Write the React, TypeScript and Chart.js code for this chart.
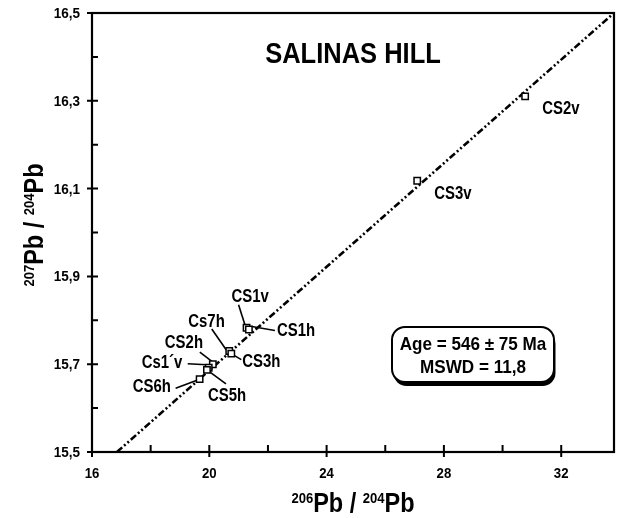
import React, { useEffect, useRef } from 'react';
import { Chart, registerables } from 'chart.js';
Chart.register(...registerables);

// ---- data ----
const sampleNames = ['CS2v', 'CS3v', 'CS1v', 'CS1h', 'Cs7h', 'CS3h', 'CS2h', 'Cs1´v', 'CS5h', 'CS6h'];
const pb206 = [30.77, 27.09, 21.27, 21.35, 20.68, 20.75, 20.12, 19.98, 19.92, 19.67];
const pb207 = [16.31, 16.118, 15.783, 15.779, 15.73, 15.724, 15.7, 15.692, 15.687, 15.666];
const isochronX = [16.85, 33.8];
const isochronY = [15.5, 16.5];

const xMajorTicks = [16, 20, 24, 28, 32];
const xMinorTicks = [18, 22, 26, 30];
const xTickLabels = ['16', '20', '24', '28', '32'];
const yMajorTicks = [15.5, 15.7, 15.9, 16.1, 16.3, 16.5];
const yMinorTicks = [15.6, 15.8, 16.0, 16.2, 16.4];
const yTickLabels = ['15,5', '15,7', '15,9', '16,1', '16,3', '16,5'];

const titleText = 'SALINAS HILL';
const ageLines = ['Age = 546 ± 75 Ma', 'MSWD = 11,8'];

// ---- label layout (pixel offsets from each point) ----
type Lay = { dx: number; dy: number; l?: number[] };
const labelLayout: Lay[] = [
  { dx: 17, dy: 13 },
  { dx: 17, dy: 13 },
  { dx: -15, dy: -31, l: [-8, -23, -1, -1] },
  { dx: 28, dy: 2, l: [3, -3, 26, 1] },
  { dx: -41, dy: -29, l: [-17.5, -22, -1.5, 1] },
  { dx: 11, dy: 8, l: [1.5, 1, 10, 6] },
  { dx: -48, dy: -21, l: [-13, -12, 0, -2] },
  { dx: -67, dy: -5, l: [-21, -4, -2, -3] },
  { dx: 1, dy: 26, l: [0, 0, 19, 14] },
  { dx: -67, dy: 8, l: [-24, 9, 0, 0] },
];

const FONT = "'Liberation Sans', Arial, sans-serif";

function squeezed(
  ctx: CanvasRenderingContext2D,
  text: string,
  x: number,
  y: number,
  sx: number,
  align: CanvasTextAlign,
  baseline: CanvasTextBaseline
) {
  ctx.save();
  ctx.translate(x, y);
  ctx.scale(sx, 1);
  ctx.textAlign = align;
  ctx.textBaseline = baseline;
  ctx.fillText(text, 0, 0);
  ctx.restore();
}

function drawIsoLabel(ctx: CanvasRenderingContext2D, parts: { t: string; sup?: boolean }[], big: number, small: number, sx: number) {
  const bigF = `bold ${big}px ${FONT}`;
  const smallF = `bold ${small}px ${FONT}`;
  let total = 0;
  const widths = parts.map((p) => {
    ctx.font = p.sup ? smallF : bigF;
    const w = ctx.measureText(p.t).width;
    total += w;
    return w;
  });
  ctx.save();
  ctx.scale(sx, 1);
  let x = -total / 2;
  ctx.textAlign = 'left';
  ctx.textBaseline = 'alphabetic';
  parts.forEach((p, i) => {
    ctx.font = p.sup ? smallF : bigF;
    ctx.fillText(p.t, x, p.sup ? -big * 0.73 + small * 0.72 : 0);
    x += widths[i];
  });
  ctx.restore();
}

const annotPlugin = {
  id: 'annot',
  beforeDatasetsDraw(chart: any) {
    const ctx: CanvasRenderingContext2D = chart.ctx;
    const xs = chart.scales.x;
    const ys = chart.scales.y;
    ctx.save();
    ctx.strokeStyle = '#000';
    ctx.lineWidth = 1.6;
    pb206.forEach((v, i) => {
      const lay = labelLayout[i];
      if (!lay.l) return;
      const px = xs.getPixelForValue(v);
      const py = ys.getPixelForValue(pb207[i]);
      ctx.beginPath();
      ctx.moveTo(px + lay.l[0], py + lay.l[1]);
      ctx.lineTo(px + lay.l[2], py + lay.l[3]);
      ctx.stroke();
    });
    ctx.restore();
  },
  afterDatasetsDraw(chart: any) {
    const ctx: CanvasRenderingContext2D = chart.ctx;
    const a = chart.chartArea;
    const xs = chart.scales.x;
    const ys = chart.scales.y;
    ctx.save();
    ctx.strokeStyle = '#000';
    ctx.fillStyle = '#000';
    // frame
    ctx.lineWidth = 2.2;
    ctx.strokeRect(a.left, a.top, a.right - a.left, a.bottom - a.top);
    // ticks
    ctx.lineWidth = 2;
    ctx.beginPath();
    xMajorTicks.forEach((v) => {
      const p = xs.getPixelForValue(v);
      ctx.moveTo(p, a.bottom + 5);
      ctx.lineTo(p, a.bottom - 7);
    });
    xMinorTicks.forEach((v) => {
      const p = xs.getPixelForValue(v);
      ctx.moveTo(p, a.bottom);
      ctx.lineTo(p, a.bottom - 7);
    });
    yMajorTicks.forEach((v) => {
      const p = ys.getPixelForValue(v);
      ctx.moveTo(a.left - 5, p);
      ctx.lineTo(a.left + 6, p);
    });
    yMinorTicks.forEach((v) => {
      const p = ys.getPixelForValue(v);
      ctx.moveTo(a.left, p);
      ctx.lineTo(a.left + 6, p);
    });
    ctx.stroke();

    // tick labels
    ctx.font = `bold 15px ${FONT}`;
    xMajorTicks.forEach((v, i) => {
      squeezed(ctx, xTickLabels[i], xs.getPixelForValue(v), a.bottom + 25.5, 0.88, 'center', 'alphabetic');
    });
    yMajorTicks.forEach((v, i) => {
      squeezed(ctx, yTickLabels[i], a.left - 12, ys.getPixelForValue(v) + 5, 0.9, 'right', 'alphabetic');
    });

    // point labels
    ctx.font = `bold 18px ${FONT}`;
    pb206.forEach((v, i) => {
      const px = xs.getPixelForValue(v);
      const py = ys.getPixelForValue(pb207[i]);
      const lay = labelLayout[i];
      squeezed(ctx, sampleNames[i], px + lay.dx, py + lay.dy, 0.83, 'left', 'middle');
    });

    // title
    ctx.font = `bold 30px ${FONT}`;
    squeezed(ctx, titleText, (a.left + a.right) / 2, 63, 0.85, 'center', 'alphabetic');

    // age box
    const bx = a.right - 222, by = 327, bw = 162, bh = 55, r = 13;
    ctx.beginPath();
    ctx.roundRect(bx + 1.5, by + 4, bw, bh, r);
    ctx.fill();
    ctx.beginPath();
    ctx.roundRect(bx, by, bw, bh, r);
    ctx.fillStyle = '#fff';
    ctx.fill();
    ctx.lineWidth = 2;
    ctx.stroke();
    ctx.fillStyle = '#000';
    ctx.font = `bold 19px ${FONT}`;
    squeezed(ctx, ageLines[0], bx + bw / 2, by + 23, 0.9, 'center', 'alphabetic');
    squeezed(ctx, ageLines[1], bx + bw / 2, by + 46, 0.9, 'center', 'alphabetic');

    // axis titles
    ctx.save();
    ctx.translate((a.left + a.right) / 2, 512);
    drawIsoLabel(ctx, [{ t: '206', sup: true }, { t: 'Pb / ' }, { t: '204', sup: true }, { t: 'Pb' }], 27, 15, 0.87);
    ctx.restore();
    ctx.save();
    ctx.translate(43, 225);
    ctx.rotate(-Math.PI / 2);
    drawIsoLabel(ctx, [{ t: '207', sup: true }, { t: 'Pb / ' }, { t: '204', sup: true }, { t: 'Pb' }], 27, 15, 0.87);
    ctx.restore();

    ctx.restore();
  },
};

export default function App() {
  const ref = useRef<HTMLCanvasElement | null>(null);
  useEffect(() => {
    if (!ref.current) return;
    const chart = new Chart(ref.current, {
      type: 'scatter',
      data: {
        datasets: [
          {
            type: 'line',
            data: isochronX.map((x, i) => ({ x, y: isochronY[i] })),
            borderColor: '#000',
            borderWidth: 2.6,
            borderDash: [7, 2.5, 2, 2.5, 2, 2.5],
            pointRadius: 0,
            fill: false,
            order: 2,
          } as any,
          {
            data: pb206.map((x, i) => ({ x, y: pb207[i] })),
            pointStyle: 'rect',
            pointRadius: 4.5,
            pointBorderWidth: 1.5,
            pointBackgroundColor: '#fff',
            pointBorderColor: '#000',
            order: 1,
          } as any,
        ],
      },
      options: {
        responsive: false,
        animation: false,
        layout: { padding: { top: 13, right: 5, left: 0, bottom: 0 } },
        plugins: { legend: { display: false }, tooltip: { enabled: false }, title: { display: false } },
        scales: {
          x: {
            type: 'linear',
            min: 16,
            max: 33.8,
            grid: { display: false, drawTicks: false },
            border: { display: false },
            afterBuildTicks: (s: any) => {
              s.ticks = xMajorTicks.map((v) => ({ value: v }));
            },
            afterFit: (s: any) => {
              s.height = 66;
            },
            ticks: { display: false },
          },
          y: {
            type: 'linear',
            min: 15.5,
            max: 16.5,
            grid: { display: false, drawTicks: false },
            border: { display: false },
            afterBuildTicks: (s: any) => {
              s.ticks = yMajorTicks.map((v) => ({ value: v }));
            },
            afterFit: (s: any) => {
              s.width = 92;
            },
            ticks: { display: false },
          },
        },
      },
      plugins: [annotPlugin],
    } as any);
    return () => chart.destroy();
  }, []);
  return (
    <div style={{ position: 'absolute', left: 0, top: 0, width: 620, height: 518, background: '#fff' }}>
      <canvas ref={ref} width={620} height={518} style={{ display: 'block' }} />
    </div>
  );
}
